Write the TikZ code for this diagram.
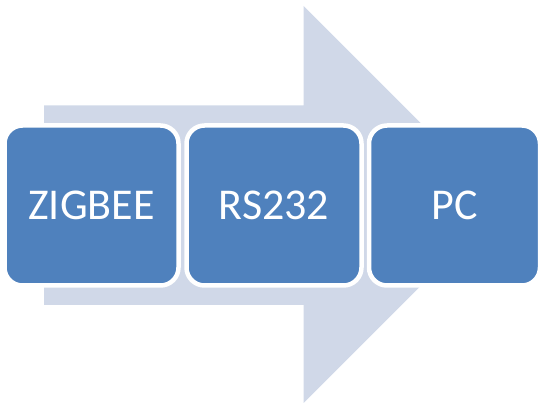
\documentclass[tikz,border=0pt]{standalone}
\usepackage{fontspec}
\setmainfont{Carlito}
\definecolor{arrowfill}{HTML}{D0D8E8}
\definecolor{boxfill}{HTML}{4F81BD}
\begin{document}
\begin{tikzpicture}[x=1pt,y=-1pt,
  stagebox/.style={draw=white, line width=4.5pt, fill=boxfill, rounded corners=18pt,
    minimum height=160pt, inner sep=0pt, text=white,
    font=\fontsize{44}{52}\selectfont}]
\useasboundingbox (0,0) rectangle (538,403);
\begin{scope}
\clip (0,0) rectangle (538,403);
\fill[arrowfill] (44,105.5) -- (303.5,105.5) -- (303.5,6) -- (502,204.5) -- (303.5,403) -- (303.5,305) -- (44,305) -- cycle;
\node[stagebox, minimum width=174pt] (zigbee) at (91.5,205.5) {ZIGBEE};
\node[stagebox, minimum width=175pt] (rs232) at (274,205.5) {RS232};
\node[stagebox, minimum width=171pt] (pc) at (454.5,205.5) {PC};
\end{scope}
\end{tikzpicture}
\end{document}
